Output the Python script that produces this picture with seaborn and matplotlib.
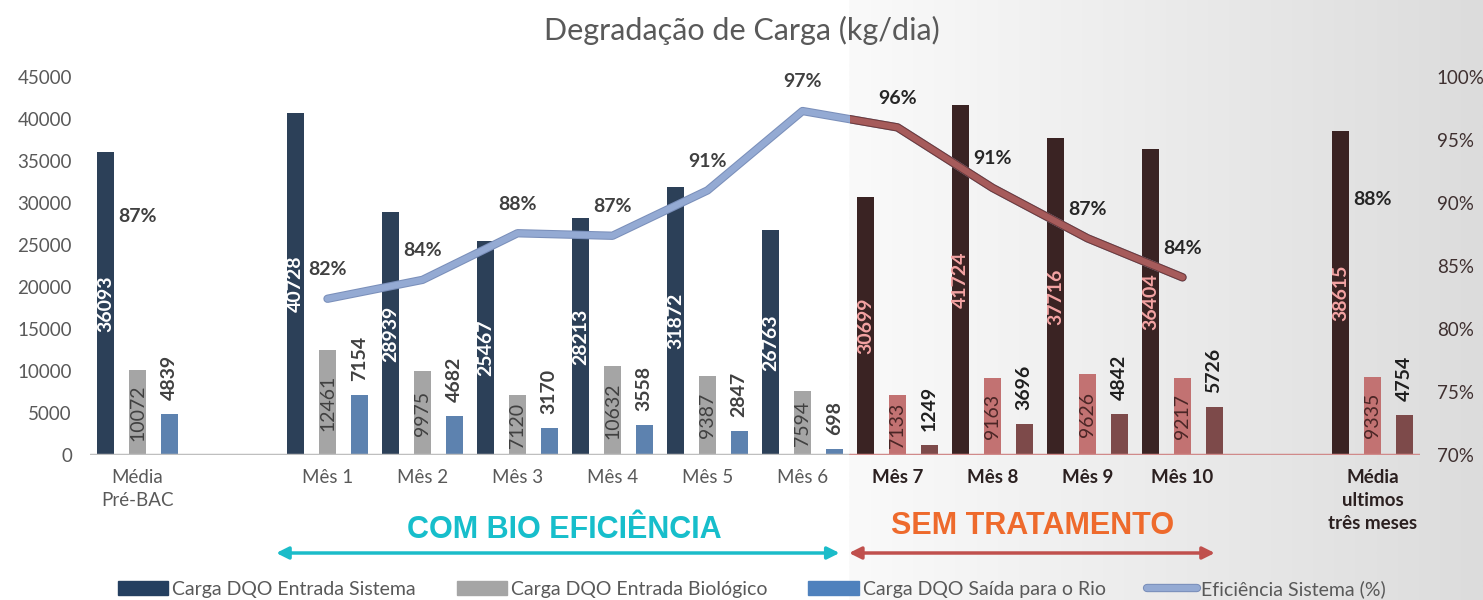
import matplotlib.pyplot as plt
import matplotlib.patheffects as pe
from matplotlib.colors import LinearSegmentedColormap
from matplotlib.patches import Rectangle, Patch
from matplotlib.lines import Line2D
import numpy as np
import pandas as pd
import seaborn as sns

sns.set_theme(style="white")
plt.rcParams['font.family'] = ['Lato', 'DejaVu Sans']

# Dados
categorias = ["Média Pré-BAC", "Mês 1", "Mês 2", "Mês 3", "Mês 4", "Mês 5", "Mês 6",
              "Mês 7", "Mês 8", "Mês 9", "Mês 10", "Média últimos"]
entrada_sistema = [36093, 40728, 28939, 25467, 28213, 31872, 26763, 30699, 41724, 37716, 36404, 38615]
entrada_biologico = [10072, 12461, 9975, 7120, 10632, 9387, 7594, 7133, 9163, 9626, 9217, 9335]
saida_rio = [4839, 7154, 4682, 3170, 3558, 2847, 698, 1249, 3696, 4842, 5726, 4754]
eficiencia = [86.6, 82.4, 83.9, 87.6, 87.4, 91.0, 97.3, 96.0, 91.2, 87.2, 84.1, 88.0]
series = ["Carga DQO Entrada Sistema", "Carga DQO Entrada Biológico", "Carga DQO Saída para o Rio"]
serie_linha = "Eficiência Sistema (%)"

ordem = [categorias[0], " "] + categorias[1:11] + ["  ", categorias[11]]
rotulos = ["Média\nPré-BAC", ""] + categorias[1:11] + ["", "Média\nultimos\ntrês meses"]

cores = ["#243F60", "#A5A5A5", "#4F81BD"]
cores_sem = ["#3A2323", "#C27272", "#7D4A4A"]
txt_com = ["white", "#404040", "#404040"]
txt_sem = ["#F4A3A3", "#4A2626", "#1E1E1E"]

df = pd.DataFrame({
    "Categoria": categorias * 3,
    "Serie": np.repeat(series, len(categorias)),
    "Valor": entrada_sistema + entrada_biologico + saida_rio,
})

W, H = 1483, 600
fig = plt.figure(figsize=(W / 100, H / 100), dpi=100)

# fundo em degradê da parte "sem tratamento"
x_sep = 849 / W
bg = fig.add_axes([x_sep, 0, 1 - x_sep, 1], zorder=0)
cmap_bg = LinearSegmentedColormap.from_list("bg", ["#FAFAFA", "#DCDCDC"])
bg.imshow(np.linspace(0, 1, 256)[None, :], aspect="auto", cmap=cmap_bg, extent=[0, 1, 0, 1])
bg.axis("off")

ax = fig.add_axes([90 / W, 145 / H, 1330 / W, 378 / H], zorder=2)
ax.patch.set_visible(False)

sns.barplot(data=df, x="Categoria", y="Valor", hue="Serie", order=ordem, hue_order=series,
            palette=cores, width=1.0, gap=0.47, errorbar=None, legend=False,
            linewidth=0, ax=ax)

pos = {c: i for i, c in enumerate(ordem)}
lim_sem = pos["Mês 7"]

for k, cont in enumerate(ax.containers):
    idx = [int(round(b.get_x() + b.get_width() / 2)) for b in cont]
    if k < 2:
        txts = ax.bar_label(cont, label_type="center", rotation=90, fontsize=14,
                            fontweight="bold" if k == 0 else "normal")
    else:
        txts = ax.bar_label(cont, label_type="edge", padding=10, rotation=90,
                            fontsize=14, fontweight="bold")
    for b, t, i in zip(cont, txts, idx):
        if i >= lim_sem:
            b.set_facecolor(cores_sem[k])
            t.set_color(txt_sem[k])
        else:
            t.set_color(txt_com[k])

ax.set_xlim(-0.5, len(ordem) - 0.5)
ax.set_ylim(0, 45000)
ax.set_yticks(range(0, 45001, 5000))
ax.tick_params(axis="y", labelsize=13.5, labelcolor="#595959", length=0, pad=13)
ax.set_xticks(range(len(ordem)))
ax.set_xticklabels(rotulos)
ax.tick_params(axis="x", labelsize=13.5, length=0, pad=10)
for i, t in enumerate(ax.get_xticklabels()):
    t.set_linespacing(1.45)
    if i >= lim_sem:
        t.set_fontweight("bold")
        t.set_color("#2B2020")
    else:
        t.set_color("#595959")
ax.set_xlabel("")
ax.set_ylabel("")
for s in ax.spines.values():
    s.set_visible(False)
frac = lim_sem / len(ordem)
ax.axhline(0, 0, frac, color="#BFBFBF", lw=2.5, zorder=1)
ax.axhline(0, frac, 1, color="#D08A8A", lw=2.5, zorder=1)

# linha de eficiência
ax2 = ax.twinx()
ax2.set_zorder(3)
ax2.patch.set_visible(False)
x_meses = [pos[c] for c in categorias[1:11]]
ef_meses = eficiencia[1:11]
sns.lineplot(x=x_meses, y=ef_meses, color="#94AAD3", lw=4.5, sort=False, ax=ax2,
             path_effects=[pe.Stroke(linewidth=6, foreground="#7A8FBA"), pe.Normal()])
sns.lineplot(x=x_meses, y=ef_meses, color="#A65B5B", lw=4.5, sort=False, ax=ax2,
             path_effects=[pe.Stroke(linewidth=6, foreground="#6E3A3A"), pe.Normal()])
ax2.lines[-1].set_clip_path(Rectangle((lim_sem - 0.5, 50), 20, 60, transform=ax2.transData))

for c, v in zip(categorias, eficiencia):
    i = pos[c]
    ax2.annotate(f"{v:.0f}%", (i, v), xytext=(0, 21), textcoords="offset points",
                 ha="center", va="center", fontsize=14, fontweight="bold",
                 color="#262626" if i >= lim_sem else "#404040")

ax2.set_ylim(70, 100)
ax2.set_yticks(range(70, 101, 5))
ax2.set_yticklabels([f"{v}%" for v in range(70, 101, 5)])
ax2.tick_params(axis="y", labelsize=13.5, labelcolor="#3F3030", length=0, pad=12)
for s in ax2.spines.values():
    s.set_visible(False)
ax2.set_ylabel("")

fig.text(0.5, 1 - 30 / H, "Degradação de Carga (kg/dia)", ha="center", va="center",
         fontsize=22, color="#595959")

# setas e rótulos dos períodos
y_seta = 1 - 553 / H
ax.annotate("", xy=(7.39, y_seta), xytext=(1.46, y_seta), xycoords=("data", "figure fraction"),
            textcoords=("data", "figure fraction"), annotation_clip=False,
            arrowprops=dict(arrowstyle="<|-|>", color="#1BBCC9", lw=2.5, mutation_scale=18,
                            shrinkA=0, shrinkB=0))
ax.annotate("", xy=(11.34, y_seta), xytext=(7.49, y_seta), xycoords=("data", "figure fraction"),
            textcoords=("data", "figure fraction"), annotation_clip=False,
            arrowprops=dict(arrowstyle="<|-|>", color="#C0504D", lw=2.5, mutation_scale=18,
                            shrinkA=0, shrinkB=0))
fig.text(564 / W, 1 - 530 / H, "COM BIO EFICIÊNCIA", ha="center", va="center",
         fontsize=22, fontweight="bold", color="#17BECB", family="Liberation Sans")
fig.text(1033 / W, 1 - 526 / H, "SEM TRATAMENTO", ha="center", va="center",
         fontsize=22, fontweight="bold", color="#EE6A2C", family="Liberation Sans")

handles = [Patch(color=c) for c in cores] + [
    Line2D([], [], color="#94AAD3", lw=4.5,
           path_effects=[pe.Stroke(linewidth=6, foreground="#7A8FBA"), pe.Normal()])]
fig.legend(handles, series + [serie_linha], loc="center", bbox_to_anchor=(0.507, 1 - 589 / H),
           ncol=4, frameon=False, fontsize=14, labelcolor="#595959", handlelength=2.6,
           handleheight=0.75, handletextpad=0.2, columnspacing=2.1)

fig.savefig("out.png", dpi=100)
